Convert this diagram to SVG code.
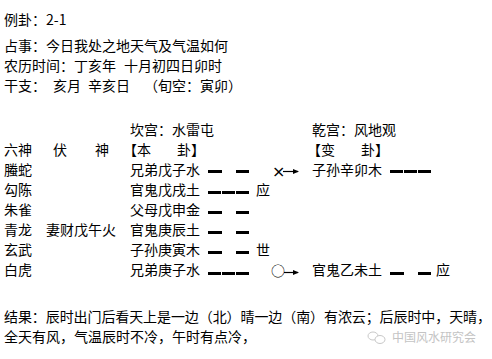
<svg xmlns="http://www.w3.org/2000/svg" width="492" height="359" viewBox="0 0 492 359">
<defs>
<style>
.t{font-family:"Noto Sans CJK SC","Noto Sans CJK TC",sans-serif;font-size:14px;fill:#000}
.sym{font-family:"DejaVu Sans",sans-serif;font-size:16px;fill:#000}
.wm{font-family:"Noto Sans CJK SC",sans-serif;font-size:12px;fill:#c4c4c4}
.yao{fill:#000}
.arr{stroke:#000;stroke-width:1.2;fill:none}
</style>
<marker id="ah" viewBox="0 0 6 6" refX="5" refY="3" markerWidth="6" markerHeight="6" markerUnits="userSpaceOnUse" orient="auto">
<path d="M0,0.5 L6,3 L0,5.5 z" fill="#000"/>
</marker>
</defs>
<rect width="492" height="359" fill="#fff"/>

<g id="header">
<text class="t" x="4" y="25">例卦：2-1</text>
<text class="t" x="4" y="51">占事：今日我处之地天气及气温如何</text>
<text class="t" x="4" y="71">农历时间：丁亥年</text>
<text class="t" x="124" y="71">十月初四日卯时</text>
<text class="t" x="4" y="91">干支：</text>
<text class="t" x="53" y="91">亥月</text>
<text class="t" x="88" y="91">辛亥日</text>
<text class="t" x="144" y="91">（旬空：寅卯）</text>
</g>

<g id="gua-titles">
<text class="t" x="130" y="135">坎宫：水雷屯</text>
<text class="t" x="312" y="135">乾宫：风地观</text>
<text class="t" x="4" y="155">六神</text>
<text class="t" x="53" y="155">伏</text>
<text class="t" x="95" y="155">神</text>
<text class="t" x="123" y="155">【本</text>
<text class="t" x="177" y="155">卦】</text>
<text class="t" x="307" y="155">【变</text>
<text class="t" x="361" y="155">卦】</text>
</g>

<g id="row1">
<text class="t" x="4" y="175">螣蛇</text>
<text class="t" x="130" y="175">兄弟戊子水</text>
<rect class="yao" x="208" y="170" width="14" height="3"/>
<rect class="yao" x="236" y="170" width="13" height="3"/>
<text class="sym" x="272" y="177">×</text>
<text class="t" x="312" y="175">子孙辛卯木</text>
<rect class="yao" x="390" y="170" width="13" height="3"/>
<rect class="yao" x="404" y="170" width="13" height="3"/>
<rect class="yao" x="418" y="170" width="13" height="3"/>
</g>

<g id="row2">
<text class="t" x="4" y="195">勾陈</text>
<text class="t" x="130" y="195">官鬼戊戌土</text>
<rect class="yao" x="208" y="191" width="13" height="3"/>
<rect class="yao" x="222" y="191" width="13" height="3"/>
<rect class="yao" x="236" y="191" width="13" height="3"/>
<text class="t" x="256" y="195">应</text>
</g>

<g id="row3">
<text class="t" x="4" y="215">朱雀</text>
<text class="t" x="130" y="215">父母戊申金</text>
<rect class="yao" x="208" y="211" width="14" height="3"/>
<rect class="yao" x="236" y="211" width="13" height="3"/>
</g>

<g id="row4">
<text class="t" x="4" y="235">青龙</text>
<text class="t" x="46" y="235">妻财戊午火</text>
<text class="t" x="130" y="235">官鬼庚辰土</text>
<rect class="yao" x="208" y="231" width="14" height="3"/>
<rect class="yao" x="236" y="231" width="13" height="3"/>
</g>

<g id="row5">
<text class="t" x="4" y="255">玄武</text>
<text class="t" x="130" y="255">子孙庚寅木</text>
<rect class="yao" x="208" y="251" width="14" height="3"/>
<rect class="yao" x="236" y="251" width="13" height="3"/>
<text class="t" x="256" y="255">世</text>
</g>

<g id="row6">
<text class="t" x="4" y="275">白虎</text>
<text class="t" x="130" y="275">兄弟庚子水</text>
<rect class="yao" x="208" y="272" width="13" height="3"/>
<rect class="yao" x="222" y="272" width="13" height="3"/>
<rect class="yao" x="236" y="272" width="13" height="3"/>
<text class="t" x="271" y="276">○</text>
<text class="t" x="312" y="275">官鬼乙未土</text>
<rect class="yao" x="390" y="272" width="14" height="3"/>
<rect class="yao" x="418" y="272" width="13" height="3"/>
<text class="t" x="436" y="275">应</text>
</g>

<g id="connectors">
<line class="arr" x1="283" y1="171.5" x2="298" y2="171.5" marker-end="url(#ah)"/>
<line class="arr" x1="284" y1="272.5" x2="298" y2="272.5" marker-end="url(#ah)"/>
</g>

<g id="result">
<text class="t" x="4" y="322" textLength="487" lengthAdjust="spacing">结果：辰时出门后看天上是一边（北）晴一边（南）有浓云；后辰时中，天晴，</text>
<text class="t" x="4" y="342">全天有风，气温辰时不冷，午时有点冷，</text>
</g>

<g id="watermark">
<ellipse cx="373" cy="336" rx="5" ry="4" fill="#fff" stroke="#c8c8c8" stroke-width="1"/>
<ellipse cx="380" cy="339.5" rx="5" ry="4" fill="#fff" stroke="#c8c8c8" stroke-width="1"/>
<text class="wm" x="392" y="342">中国风水研究会</text>
</g>
</svg>
